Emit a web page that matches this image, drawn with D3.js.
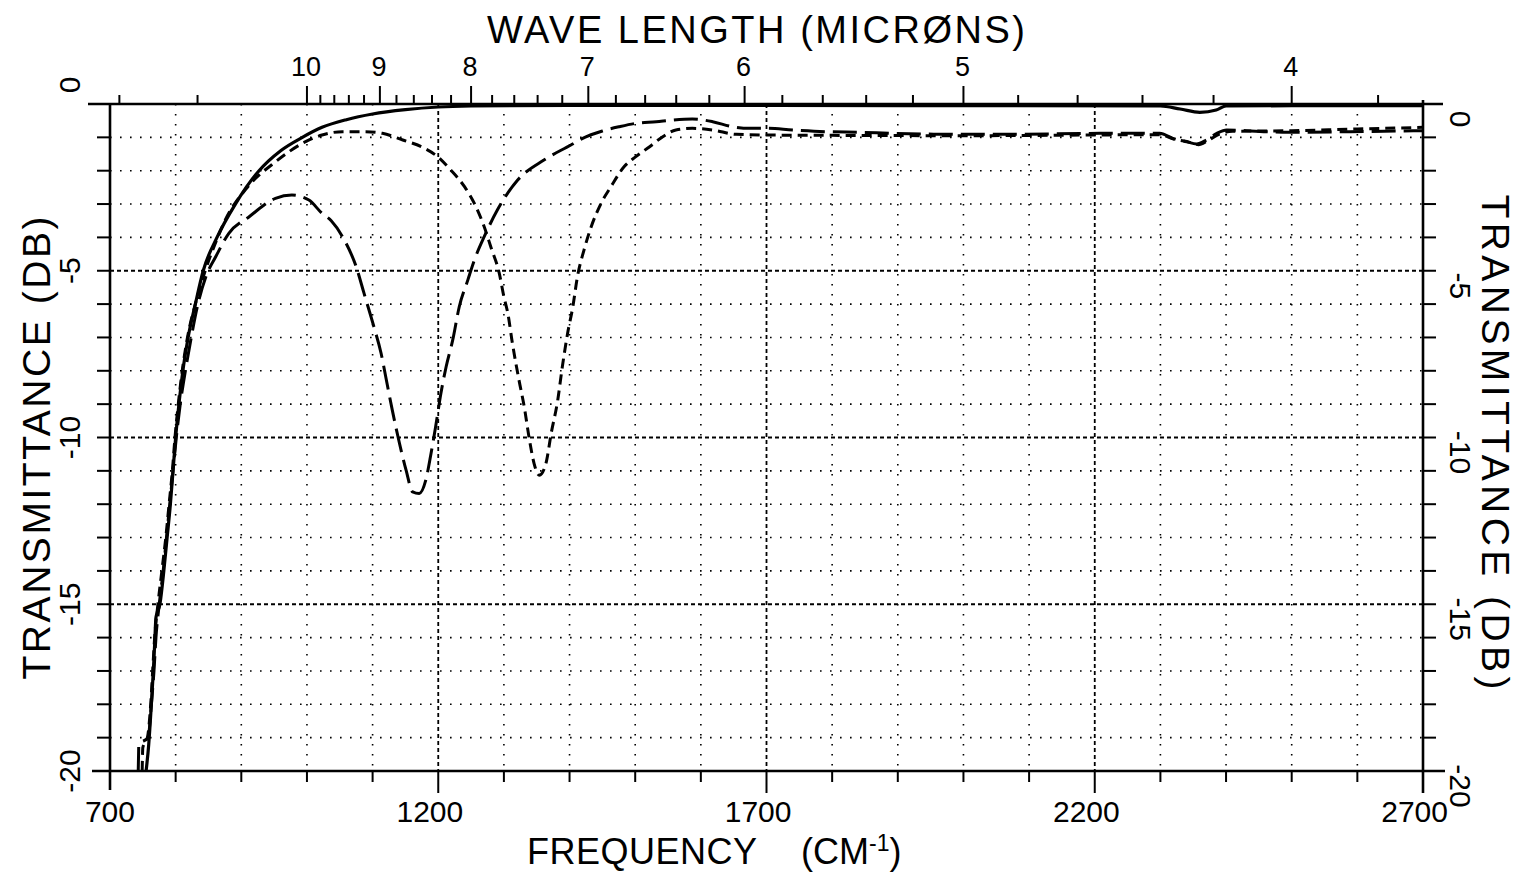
<!DOCTYPE html>
<html lang="en">
  <head>
    <meta charset="utf-8" />
    <script src="https://d3js.org/d3.v7.min.js"></script>
    <style>
      body { margin: 0; background: #fff; }
      text { font-family: "Liberation Sans", Arial, sans-serif; fill: #000; }
    </style>
  </head>
  <body>
    <script>
      // ---- data (frequency cm-1, transmittance dB) ----
      let solidCurve = [
        [755, -20], [759, -19.2], [763, -18], [766, -17], [768, -16.2], [770, -15.4],
        [776, -15], [782, -14], [787, -13], [792, -12], [796, -11], [800, -10],
        [805, -9], [811, -8], [819, -7], [830, -6], [842, -5], [863, -4], [891, -3],
        [927, -2], [960, -1.4], [993, -1], [1023, -0.7], [1060, -0.47], [1100, -0.3],
        [1150, -0.17], [1200, -0.09], [1250, -0.06], [1400, -0.04], [1700, -0.04],
        [2000, -0.05], [2300, -0.06], [2330, -0.15], [2360, -0.25], [2385, -0.18],
        [2400, -0.06], [2500, -0.05], [2700, -0.05]
      ];
      let shortDashCurve = [
        [749, -20], [750, -19.3], [757, -19], [762, -18], [765, -17], [768, -16],
        [773, -15], [779, -14], [785, -13], [790, -12], [795, -11], [799, -10],
        [804, -9], [810, -8], [818, -7], [830, -6], [845, -5], [862, -4.1], [875, -3.5],
        [907, -2.55], [953, -1.72], [998, -1.13], [1023, -0.93], [1054, -0.83],
        [1087, -0.83], [1115, -0.88], [1146, -1.08], [1174, -1.28], [1199, -1.58],
        [1219, -1.98], [1240, -2.48], [1255, -2.98], [1270, -3.68], [1280, -4.28],
        [1293, -5.08], [1300, -5.78], [1306, -6.28], [1313, -7.18], [1323, -8.28],
        [1331, -9.08], [1339, -10.08], [1346, -10.78], [1354, -11.13], [1364, -10.78],
        [1372, -9.88], [1382, -8.88], [1389, -7.88], [1397, -6.88], [1405, -6.08],
        [1412, -5.18], [1422, -4.38], [1433, -3.68], [1448, -2.98], [1463, -2.48],
        [1483, -1.88], [1501, -1.58], [1522, -1.28], [1542, -0.98], [1562, -0.78],
        [1587, -0.73], [1618, -0.78], [1654, -0.91], [1700, -0.93], [1800, -0.94],
        [2000, -0.95], [2200, -0.93], [2300, -0.92], [2320, -1.05], [2345, -1.15],
        [2358, -1.22], [2372, -1.1], [2390, -0.9], [2410, -0.82], [2500, -0.8],
        [2600, -0.75], [2700, -0.7]
      ];
      let longDashCurve = [
        [743, -20], [744, -19.2], [758, -19], [763, -18], [767, -17], [770, -16],
        [775, -15], [781, -14], [786, -13], [791, -12], [796, -11], [801, -10],
        [807, -9], [815, -7.98], [823, -7.08], [833, -6.08], [846, -5.18], [861, -4.58],
        [881, -3.88], [912, -3.38], [952, -2.83], [977, -2.73], [1003, -2.88],
        [1023, -3.28], [1037, -3.5], [1057, -4.08], [1075, -4.88], [1087, -5.68],
        [1102, -6.68], [1113, -7.48], [1120, -8.18], [1130, -9.18], [1141, -10.18],
        [1151, -10.98], [1161, -11.63], [1171, -11.68], [1181, -11.28], [1189, -10.48],
        [1196, -9.68], [1204, -8.68], [1212, -7.88], [1222, -7.08], [1232, -6.08],
        [1245, -5.28], [1255, -4.68], [1270, -3.98], [1290, -3.18], [1321, -2.28],
        [1361, -1.68], [1402, -1.23], [1420, -1.03], [1450, -0.81], [1476, -0.68],
        [1501, -0.58], [1532, -0.53], [1557, -0.48], [1587, -0.45], [1618, -0.53],
        [1648, -0.68], [1674, -0.73], [1700, -0.73], [1740, -0.78], [1791, -0.83],
        [1842, -0.85], [1892, -0.88], [1943, -0.9], [1994, -0.91], [2070, -0.91],
        [2208, -0.88], [2299, -0.88], [2319, -1.03], [2340, -1.13], [2355, -1.2],
        [2370, -1.08], [2386, -0.88], [2401, -0.78], [2462, -0.83], [2512, -0.85],
        [2589, -0.83], [2700, -0.8]
      ];

      // ---- tick labels ----
      let freqLabels = [700, 1200, 1700, 2200, 2700];
      let freqTicks = [800, 900, 1000, 1100, 1200, 1300, 1400, 1500, 1600, 1700, 1800, 1900,
                       2000, 2100, 2200, 2300, 2400, 2500, 2600];
      let dbLabels = [0, -5, -10, -15, -20];
      let dbTicks = [-1, -2, -3, -4, -5, -6, -7, -8, -9, -10, -11, -12, -13, -14, -15,
                     -16, -17, -18, -19];
      let wlMajor = [10, 9, 8, 7, 6, 5, 4];
      let wlMinor = [14, 12, 9.8, 9.6, 9.4, 9.2, 8.8, 8.6, 8.4, 8.2, 7.8, 7.6, 7.4, 7.2,
                     6.8, 6.6, 6.4, 6.2, 5.8, 5.6, 5.4, 5.2, 4.8, 4.6, 4.4, 4.2, 3.8];

      let w = 1526;
      let h = 874;

      let svg = d3.select("body").append("svg").attr("width", w).attr("height", h);

      let x = d3.scaleLinear().domain([700, 2700]).range([110, 1423]);
      let y = d3.scaleLinear().domain([-20, 0]).range([771, 104]);

      // grid
      svg.append("g")
        .selectAll("line")
        .data(freqTicks)
        .join("line")
        .attr("x1", (d) => x(d)).attr("x2", (d) => x(d))
        .attr("y1", y(0)).attr("y2", y(-20))
        .attr("stroke", "#000")
        .attr("stroke-width", (d) => (d % 500 === 200 ? 1.8 : 1.6))
        .attr("stroke-dasharray", (d) => (d % 500 === 200 ? "4,3" : "1.6,8.4"));

      svg.append("g")
        .selectAll("line")
        .data(dbTicks)
        .join("line")
        .attr("x1", x(700)).attr("x2", x(2700))
        .attr("y1", (d) => y(d)).attr("y2", (d) => y(d))
        .attr("stroke", "#000")
        .attr("stroke-width", (d) => (d % 5 === 0 ? 1.8 : 1.6))
        .attr("stroke-dasharray", (d) => (d % 5 === 0 ? "4,3" : "1.6,8.4"));

      // frame
      let frame = svg.append("g").attr("stroke", "#000").attr("stroke-width", 2.6);
      frame.append("line").attr("x1", x(700) - 22).attr("x2", x(2700) + 20).attr("y1", y(0)).attr("y2", y(0));
      frame.append("line").attr("x1", x(700) - 18).attr("x2", x(2700) + 22).attr("y1", y(-20)).attr("y2", y(-20));
      frame.append("line").attr("x1", x(700)).attr("x2", x(700)).attr("y1", y(0)).attr("y2", y(-20) + 19);
      frame.append("line").attr("x1", x(2700)).attr("x2", x(2700)).attr("y1", y(0) - 4).attr("y2", y(-20) + 22);

      // ticks
      let ticks = svg.append("g").attr("stroke", "#000").attr("stroke-width", 2);
      ticks.selectAll(".bt")
        .data(freqTicks)
        .join("line")
        .attr("x1", (d) => x(d)).attr("x2", (d) => x(d))
        .attr("y1", y(-20)).attr("y2", (d) => y(-20) + (d % 500 === 200 ? 22 : 11));
      ticks.selectAll(".lt")
        .data(dbTicks)
        .join("line")
        .attr("class", "lt")
        .attr("x1", x(700) - 13).attr("x2", x(700))
        .attr("y1", (d) => y(d)).attr("y2", (d) => y(d));
      ticks.selectAll(".rt")
        .data(dbTicks)
        .join("line")
        .attr("class", "rt")
        .attr("x1", x(2700)).attr("x2", x(2700) + 13)
        .attr("y1", (d) => y(d)).attr("y2", (d) => y(d));
      ticks.selectAll(".tmin")
        .data(wlMinor)
        .join("line")
        .attr("class", "tmin")
        .attr("x1", (d) => x(1e4 / d)).attr("x2", (d) => x(1e4 / d))
        .attr("y1", y(0)).attr("y2", y(0) - 9);
      ticks.selectAll(".tmaj")
        .data(wlMajor)
        .join("line")
        .attr("class", "tmaj")
        .attr("x1", (d) => x(1e4 / d)).attr("x2", (d) => x(1e4 / d))
        .attr("y1", y(0)).attr("y2", y(0) - 18);

      // curves
      let line = d3.line()
        .x((d) => x(d[0]))
        .y((d) => y(d[1]))
        .curve(d3.curveMonotoneX);

      svg.append("path").datum(longDashCurve)
        .attr("d", line).attr("fill", "none").attr("stroke", "#000")
        .attr("stroke-width", 3).attr("stroke-dasharray", "24,8");
      svg.append("path").datum(shortDashCurve)
        .attr("d", line).attr("fill", "none").attr("stroke", "#000")
        .attr("stroke-width", 3).attr("stroke-dasharray", "10,6");
      svg.append("path").datum(solidCurve)
        .attr("d", line).attr("fill", "none").attr("stroke", "#000")
        .attr("stroke-width", 3.2);

      // tick labels
      svg.append("g")
        .selectAll("text")
        .data(freqLabels)
        .join("text")
        .attr("x", (d) => x(d) + 25)
        .attr("y", 822)
        .attr("text-anchor", "end")
        .attr("font-size", 30)
        .text((d) => d);

      svg.append("g")
        .selectAll("text")
        .data(wlMajor)
        .join("text")
        .attr("x", (d) => x(1e4 / d) - 1)
        .attr("y", 76)
        .attr("text-anchor", "middle")
        .attr("font-size", 27)
        .text((d) => d);

      svg.append("g")
        .selectAll("text")
        .data(dbLabels)
        .join("text")
        .attr("transform", (d) => "translate(80," + (y(d) + (d === 0 ? -19 : 0)) + ") rotate(-90)")
        .attr("text-anchor", "middle")
        .attr("font-size", 30)
        .text((d) => d);

      svg.append("g")
        .selectAll("text")
        .data(dbLabels)
        .join("text")
        .attr("transform", (d) => "translate(1450," + (y(d) + 15) + ") rotate(90)")
        .attr("text-anchor", "middle")
        .attr("font-size", 30)
        .text((d) => d);

      // titles
      svg.append("text")
        .attr("x", 487).attr("y", 43)
        .attr("font-size", 38)
        .attr("textLength", 538).attr("lengthAdjust", "spacing")
        .text("WAVE LENGTH  (MICRØNS)");

      let ft = svg.append("text").attr("y", 864).attr("font-size", 36);
      ft.append("tspan").attr("x", 527).attr("textLength", 230).attr("lengthAdjust", "spacing").text("FREQUENCY");
      ft.append("tspan").attr("x", 801).text("(CM");
      ft.append("tspan").attr("font-size", 23).attr("dy", -13).text("-1");
      ft.append("tspan").attr("dy", 13).text(")");

      svg.append("text")
        .attr("transform", "translate(50,448) rotate(-90)")
        .attr("text-anchor", "middle")
        .attr("font-size", 39)
        .attr("textLength", 463).attr("lengthAdjust", "spacing")
        .text("TRANSMITTANCE  (DB)");

      svg.append("text")
        .attr("transform", "translate(1482,442) rotate(90)")
        .attr("text-anchor", "middle")
        .attr("font-size", 39)
        .attr("textLength", 495).attr("lengthAdjust", "spacing")
        .text("TRANSMITTANCE  (DB)");
    </script>
  </body>
</html>
